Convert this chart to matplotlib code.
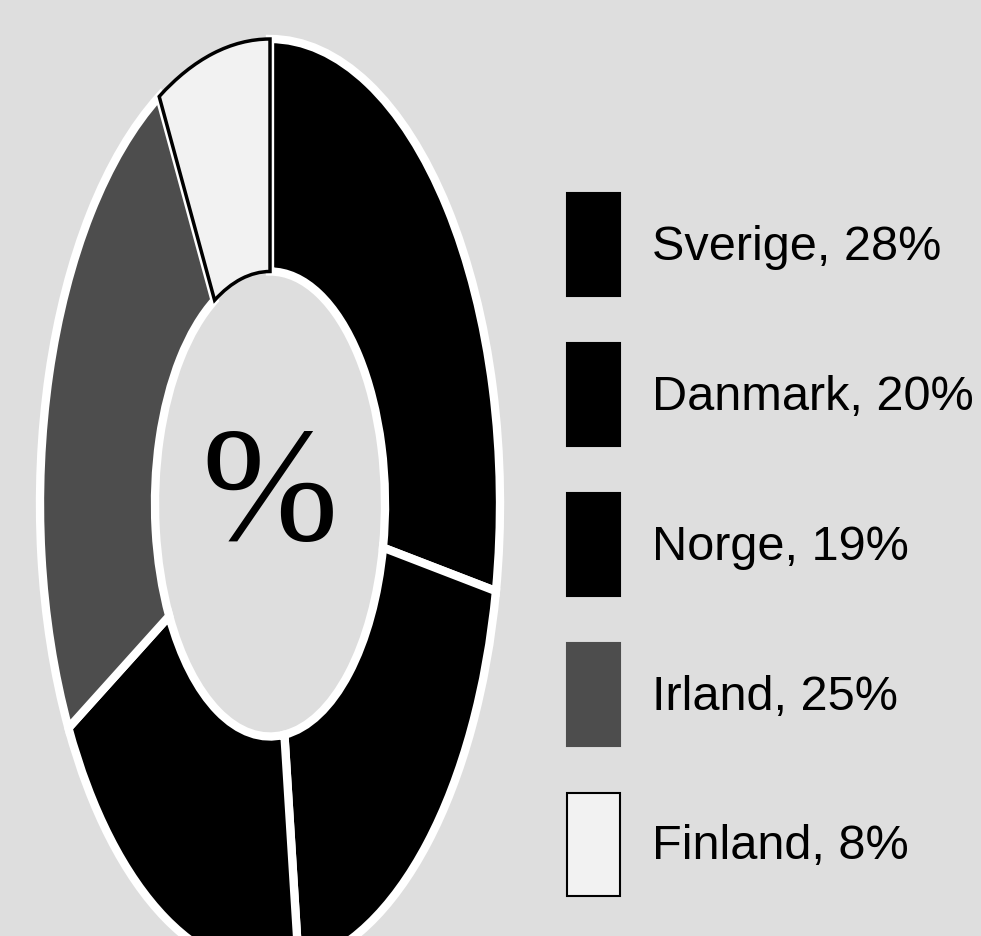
import matplotlib
matplotlib.use('Agg')
import matplotlib.pyplot as plt
import matplotlib.patches as mpatches
from matplotlib.font_manager import FontProperties

countries = ['Sverige', 'Danmark', 'Norge', 'Irland', 'Finland']
shares = [28, 20, 19, 25, 8]
colors = ['#000000', '#000000', '#000000', '#4d4d4d', '#f2f2f2']
center_label = '%'

W, H = 981, 937
fig = plt.figure(figsize=(W / 100, H / 100), dpi=100)
bg = '#dedede'
fig.patch.set_facecolor(bg)

cx, cy, rx, ry = 270, 505, 230, 465
ax = fig.add_axes([(cx - rx) / W, (H - (cy + ry)) / H, 2 * rx / W, 2 * ry / H])
wedges, _ = ax.pie(shares, colors=colors, startangle=90, counterclock=False,
                   radius=1.0,
                   wedgeprops=dict(width=0.5, edgecolor='white', linewidth=6))
ax.set_aspect('auto')
ax.set_xlim(-1, 1)
ax.set_ylim(-1, 1)
ax.axis('off')
wedges[-1].set_edgecolor('black')
wedges[-1].set_linewidth(2.5)

ax.text(0, 0.01, center_label, ha='center', va='center', fontsize=118,
        family=['Liberation Serif', 'DejaVu Serif'], color='black')

handles = [mpatches.Patch(facecolor=c, edgecolor=('black' if i == len(colors) - 1 else c),
                          linewidth=1.5) for i, c in enumerate(colors)]
labels = [f'{c}, {v}%' for c, v in zip(countries, shares)]
fp = FontProperties(family=['Liberation Sans', 'DejaVu Sans'], size=35)
fig.legend(handles, labels, loc='upper left', bbox_to_anchor=(567 / W, 1 - 194 / H),
           frameon=False, prop=fp, handlelength=1.09, handleheight=2.88,
           handletextpad=0.66, labelspacing=0.967, borderpad=0, borderaxespad=0)

fig.savefig('out.png', dpi=100, facecolor=bg)
